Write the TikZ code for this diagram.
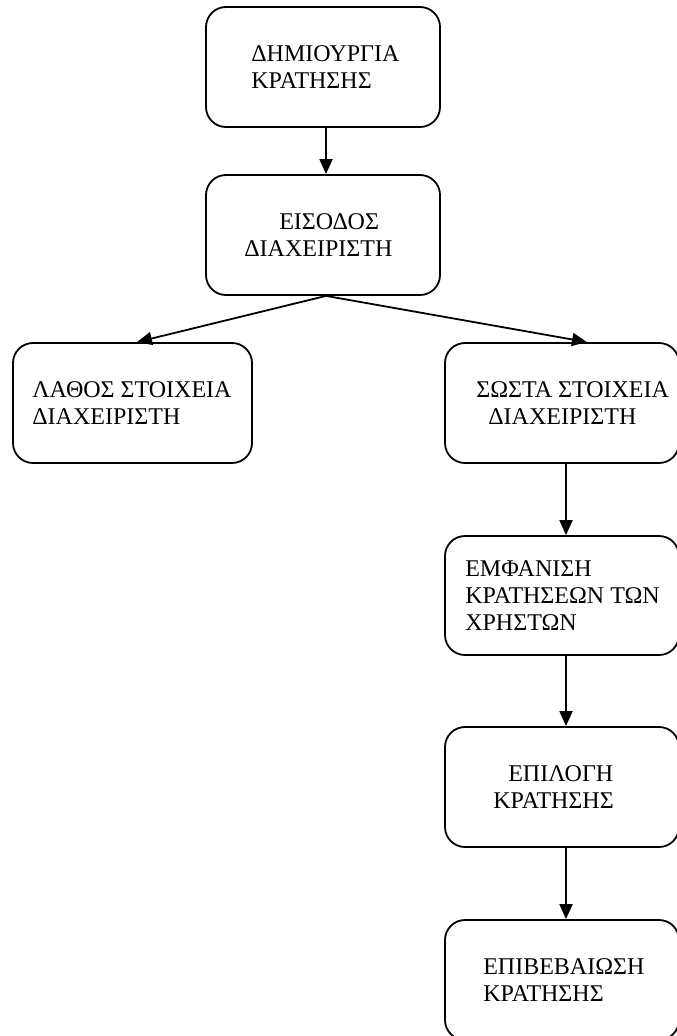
\documentclass[tikz,border=0pt]{standalone}
\usepackage{fontspec}
\setmainfont{Liberation Serif}
\usetikzlibrary{arrows.meta,calc}

\begin{document}
\begin{tikzpicture}[x=1pt,y=-1pt,
  stepbox/.style={draw, line width=1.8pt, rounded corners=20pt,
    minimum width=234pt, minimum height=120pt, inner sep=0pt},
  label text/.style={anchor=west, inner sep=0pt, align=left,
    font=\fontsize{24pt}{27pt}\selectfont},
  flow/.style={line width=1.8pt, -{Triangle[length=15pt,width=13pt]}}]
  \useasboundingbox (0,0) rectangle (677,1036);

  % boxes of the flow
  \node[stepbox] (b1) at (323,67) {};
  \node[stepbox] (b2) at (323,235) {};
  \node[stepbox, minimum width=239pt] (b3) at (132.5,403) {};
  \node[stepbox] (b4) at (562,403) {};
  \node[stepbox, minimum height=119pt] (b5) at (562,595.5) {};
  \node[stepbox] (b6) at (562,787) {};
  \node[stepbox] (b7) at (562,980) {};

  % their captions
  \node[label text] (t1) at ($(b1.west)+(46,0)$) {ΔΗΜΙΟΥΡΓΙΑ\\ΚΡΑΤΗΣΗΣ};
  \node[label text] (t2) at ($(b2.west)+(39,0)$) {\hspace*{35pt}ΕΙΣΟΔΟΣ\\ΔΙΑΧΕΙΡΙΣΤΗ};
  \node[label text] (t3) at ($(b3.west)+(20,0)$) {ΛΑΘΟΣ ΣΤΟΙΧΕΙΑ\\ΔΙΑΧΕΙΡΙΣΤΗ};
  \node[label text] (t4) at ($(b4.west)+(32,0)$) {ΣΩΣΤΑ ΣΤΟΙΧΕΙΑ\\\hspace*{12pt}ΔΙΑΧΕΙΡΙΣΤΗ};
  \node[label text] (t5) at ($(b5.west)+(21,0)$) {ΕΜΦΑΝΙΣΗ\\ΚΡΑΤΗΣΕΩΝ ΤΩΝ\\ΧΡΗΣΤΩΝ};
  \node[label text] (t6) at ($(b6.west)+(49,0)$) {\hspace*{15pt}ΕΠΙΛΟΓΗ\\ΚΡΑΤΗΣΗΣ};
  \node[label text] (t7) at ($(b7.west)+(39,0)$) {ΕΠΙΒΕΒΑΙΩΣΗ\\ΚΡΑΤΗΣΗΣ};

  % connectors
  \draw[flow] ($(b1.south)+(3,0)$) -- ($(b2.north)+(3,0)$);
  \draw[flow] ($(b2.south)+(3,0)$) -- ($(b3.north)+(4.5,0)$);
  \draw[flow] ($(b2.south)+(3,0)$) -- ($(b4.north)+(25,0)$);
  \draw[flow] ($(b4.south)+(4,0)$) -- ($(b5.north)+(4,0)$);
  \draw[flow] ($(b5.south)+(4,0)$) -- ($(b6.north)+(4,0)$);
  \draw[flow] ($(b6.south)+(4,0)$) -- ($(b7.north)+(4,0)$);
\end{tikzpicture}
\end{document}
